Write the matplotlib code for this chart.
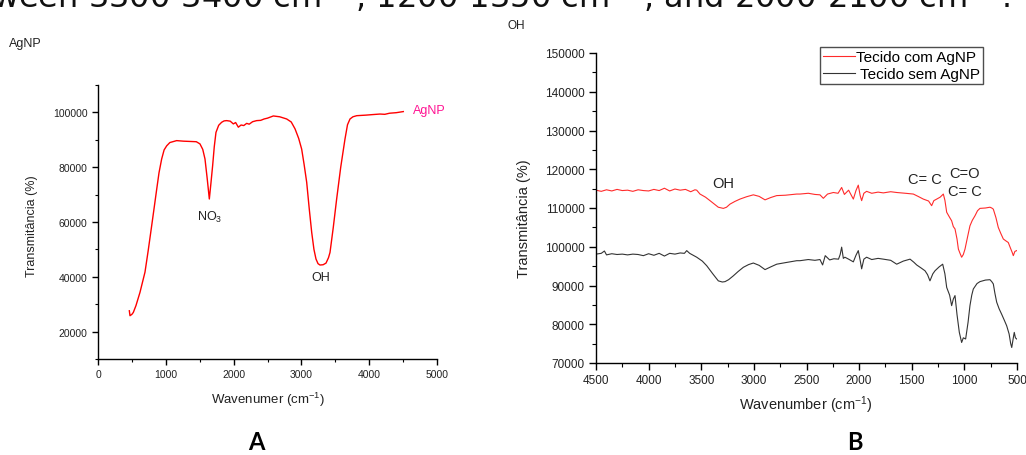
import matplotlib
matplotlib.use("Agg")
import matplotlib.pyplot as plt
from matplotlib.ticker import MultipleLocator

plt.rcParams['font.family'] = ['Liberation Sans', 'DejaVu Sans']
plt.rcParams['mathtext.default'] = 'regular'

# ---------------- Panel A: AgNP spectrum ----------------
agnp_x = [462, 472, 500, 521, 560, 619, 693, 740, 792, 830, 866, 900, 939, 975, 1013, 1060,
          1160, 1260, 1357, 1450, 1504, 1545, 1578, 1610, 1642, 1665, 1691, 1715, 1740, 1780,
          1824, 1860, 1898, 1950, 1996, 2030, 2070, 2110, 2150, 2193, 2230, 2280, 2340, 2400,
          2450, 2500, 2586, 2680, 2783, 2850, 2906, 2960, 3004, 3040, 3078, 3115, 3152, 3185,
          3215, 3245, 3274, 3320, 3363, 3400, 3422, 3470, 3520, 3580, 3643, 3680, 3717, 3760,
          3816, 3880, 3950, 4050, 4159, 4230, 4300, 4400, 4503]
agnp_y = [27600, 25800, 26300, 27000, 29500, 34300, 41700, 49500, 58700, 65500, 72000, 78000,
          83000, 86300, 87800, 89000, 89700, 89500, 89400, 89300, 88500, 86500, 83000, 76000,
          68400, 74000, 80600, 87500, 92700, 95300, 96400, 96900, 97000, 96800, 95800, 96300,
          94600, 95400, 95200, 96000, 95700, 96600, 97000, 97100, 97600, 97900, 98700, 98400,
          97600, 96500, 94000, 90500, 86600, 81000, 74500, 65000, 56200, 50000, 46500, 44800,
          44300, 44400, 45000, 47000, 48900, 58000, 68400, 80000, 90300, 95500, 97600, 98400,
          98800, 98900, 99000, 99200, 99400, 99300, 99700, 99900, 100300]

# ---------------- Panel B: fabric spectra ----------------
com_x = [4500, 4450, 4400, 4350, 4300, 4250, 4200, 4150, 4100, 4050, 4000, 3950, 3900, 3850,
         3800, 3750, 3700, 3650, 3600, 3560, 3543, 3512, 3460, 3417, 3338, 3290, 3260, 3227,
         3180, 3132, 3070, 3005, 2950, 2894, 2840, 2783, 2700, 2593, 2562, 2483, 2420, 2372,
         2340, 2300, 2245, 2200, 2166, 2140, 2100, 2055, 2030, 2008, 1990, 1976, 1955, 1929,
         1880, 1820, 1770, 1700, 1643, 1560, 1485, 1440, 1390, 1340, 1311, 1290, 1263, 1230,
         1200, 1185, 1168, 1145, 1121, 1105, 1089, 1070, 1057, 1040, 1026, 1010, 994, 970,
         947, 925, 899, 875, 852, 800, 757, 740, 725, 700, 678, 655, 630, 605, 583, 560, 545,
         535, 520, 503]
com_y = [114600, 114300, 114700, 114400, 114800, 114500, 114600, 114300, 114700, 114500,
         114400, 114800, 114500, 115100, 114400, 114900, 114600, 114800, 114200, 114700,
         114600, 113600, 112800, 111900, 110200, 109900, 110200, 111000, 111700, 112300,
         112900, 113400, 113000, 112100, 112700, 113200, 113300, 113600, 113600, 113800,
         113500, 113400, 112500, 113600, 114000, 113800, 115300, 113500, 114600, 112300,
         114500, 115900, 113200, 111900, 113800, 114300, 113800, 114100, 113900, 114200,
         114000, 113800, 113600, 113000, 112300, 111800, 110600, 111900, 112300, 112800,
         113600, 112000, 108900, 107800, 106700, 105200, 104600, 102000, 99400, 98200,
         97300, 98000, 99400, 102500, 105400, 106800, 108000, 109300, 109900, 110000,
         110200, 110000, 109700, 107500, 105000, 103500, 102000, 101500, 101100, 99500,
         98500, 97700, 98800, 99000]

sem_x = [4500, 4450, 4420, 4400, 4350, 4300, 4250, 4200, 4150, 4100, 4050, 4000, 3950, 3900,
         3850, 3800, 3750, 3700, 3660, 3638, 3610, 3543, 3490, 3448, 3390, 3338, 3300, 3274,
         3240, 3195, 3150, 3100, 3050, 3005, 2950, 2894, 2840, 2783, 2700, 2593, 2562, 2483,
         2420, 2372, 2347, 2322, 2280, 2240, 2196, 2180, 2166, 2150, 2135, 2100, 2055, 2030,
         2008, 1990, 1976, 1955, 1929, 1880, 1820, 1770, 1700, 1643, 1580, 1516, 1480, 1453,
         1410, 1374, 1350, 1327, 1300, 1279, 1240, 1206, 1185, 1168, 1140, 1121, 1105, 1089,
         1070, 1048, 1026, 1010, 988, 965, 947, 930, 915, 880, 852, 800, 757, 740, 725, 710,
         693, 670, 646, 620, 598, 575, 560, 550, 535, 526, 515, 503]
sem_y = [98100, 98300, 98900, 97900, 98200, 98000, 98100, 97900, 98100, 98000, 97700, 98200,
         97800, 98300, 97600, 98300, 98100, 98400, 98300, 99000, 98300, 97300, 96300, 95100,
         93000, 91200, 90900, 91000, 91500, 92500, 93600, 94700, 95400, 95800, 95200, 94100,
         94800, 95500, 95900, 96400, 96400, 96700, 96500, 96700, 95300, 97700, 96600, 96900,
         96800, 98000, 99900, 97000, 97300, 96800, 96100, 97800, 99000, 96500, 94300, 96800,
         97300, 96700, 97000, 96800, 96500, 95500, 96300, 96800, 96000, 95300, 94500, 93800,
         92800, 91200, 93000, 93800, 94800, 95500, 93000, 89500, 87500, 84800, 86500, 87400,
         82500, 77900, 75300, 76500, 76200, 80500, 84800, 87500, 89100, 90500, 91000, 91400,
         91500, 91000, 90400, 88000, 85700, 84000, 82600, 81000, 79600, 77500, 75000, 74000,
         76500, 77900, 76500, 76200]

A_xticks = [0, 1000, 2000, 3000, 4000, 5000]
A_yticks = [20000, 40000, 60000, 80000, 100000]
B_xticks = [4500, 4000, 3500, 3000, 2500, 2000, 1500, 1000, 500]
B_yticks = [70000, 80000, 90000, 100000, 110000, 120000, 130000, 140000, 150000]

W, H = 1026, 456
fig = plt.figure(figsize=(W / 100, H / 100), dpi=100)

def px_axes(l, t, r, b):
    return fig.add_axes([l / W, 1 - b / H, (r - l) / W, (b - t) / H])

def style(ax, fs, major_len, minor_len, pad):
    for s in ['top', 'right']:
        ax.spines[s].set_visible(False)
    for s in ['left', 'bottom']:
        ax.spines[s].set_linewidth(1.0)
    ax.tick_params(which='major', direction='out', length=major_len, width=1.0,
                   labelsize=fs, pad=pad, colors='black', labelcolor='#222222')
    ax.tick_params(which='minor', direction='out', length=minor_len, width=0.8)

# ---- Panel A ----
axA = px_axes(98, 86, 437, 360)
axA.plot(agnp_x, agnp_y, color='#ff0000', lw=1.0)
axA.set_xlim(0, 5000)
axA.set_ylim(10000, 110000)
axA.set_xticks(A_xticks)
axA.set_yticks(A_yticks)
axA.xaxis.set_minor_locator(MultipleLocator(500))
axA.yaxis.set_minor_locator(MultipleLocator(10000))
style(axA, 7.5, 4, 2.5, 3.5)
axA.set_ylabel('Transmitância (%)', fontsize=9, va='center', color='#222222')
axA.yaxis.set_label_coords(-0.195, 0.489)
axA.set_xlabel('Wavenumer (cm$^{-1}$)', fontsize=9.5, va='center', color='#222222')
axA.xaxis.set_label_coords(0.501, -0.146)
axA.text(1642, 62000, 'NO$_3$', fontsize=9, ha='center', va='center', color='#222222')
axA.text(3290, 40000, 'OH', fontsize=9, ha='center', va='center', color='#222222')
axA.text(4650, 101000, 'AgNP', fontsize=9, ha='left', va='center', color='#ff1493')

# ---- Panel B ----
axB = px_axes(596, 54, 1017, 364)
axB.plot(com_x, com_y, color='#ff2b2b', lw=0.8, label='Tecido com AgNP')
axB.plot(sem_x, sem_y, color='#333333', lw=0.8, label=' Tecido sem AgNP')
axB.set_xlim(4500, 500)
axB.set_ylim(70000, 150000)
axB.set_xticks(B_xticks)
axB.set_yticks(B_yticks)
axB.xaxis.set_minor_locator(MultipleLocator(250))
axB.yaxis.set_minor_locator(MultipleLocator(5000))
style(axB, 8.5, 5, 3, 3)
axB.set_ylabel('Transmitância (%)', fontsize=10.5, va='center', color='#222222')
axB.yaxis.set_label_coords(-0.171, 0.469)
axB.set_xlabel('Wavenumber (cm$^{-1}$)', fontsize=10.5, va='center', color='#222222')
axB.xaxis.set_label_coords(0.499, -0.132)
axB.text(3290, 116500, 'OH', fontsize=10.5, ha='center', va='center', color='#222222')
axB.text(1380, 117500, 'C= C', fontsize=10.5, ha='center', va='center', color='#222222')
axB.text(1000, 119000, 'C=O', fontsize=10.5, ha='center', va='center', color='#222222')
axB.text(1000, 114500, 'C= C', fontsize=10.5, ha='center', va='center', color='#222222')
leg = axB.legend(loc='upper right', bbox_to_anchor=(983 / W, 1 - 48 / H),
                 bbox_transform=fig.transFigure, frameon=True, fancybox=False,
                 edgecolor='#222222', borderpad=0.2, handlelength=2.1,
                 handletextpad=0.05, labelspacing=0.2, borderaxespad=0, fontsize=11)
leg.get_frame().set_linewidth(1.0)

# ---- Figure texts (top line is a cropped caption, partly outside as in the source) ----
fig.text(-8 / W, 1 - 8 / H, 'ween 3300-3400 cm$^{-1}$, 1200-1350 cm$^{-1}$, and 2000-2100 cm$^{-1}$.',
         fontsize=23, family='DejaVu Sans', ha='left', va='baseline', color='#111111')
fig.text(507 / W, 1 - 26 / H, 'OH', fontsize=8.5, ha='left', va='center', color='#222222')
fig.text(9 / W, 1 - 44 / H, 'AgNP', fontsize=9, ha='left', va='center', color='#222222')
fig.text(256 / W, 1 - 443 / H, 'A', fontsize=17, family='Lato', weight='bold', ha='center', va='center')
fig.text(855 / W, 1 - 443 / H, 'B', fontsize=17, family='Lato', weight='bold', ha='center', va='center')

fig.savefig('out.png', dpi=100)
